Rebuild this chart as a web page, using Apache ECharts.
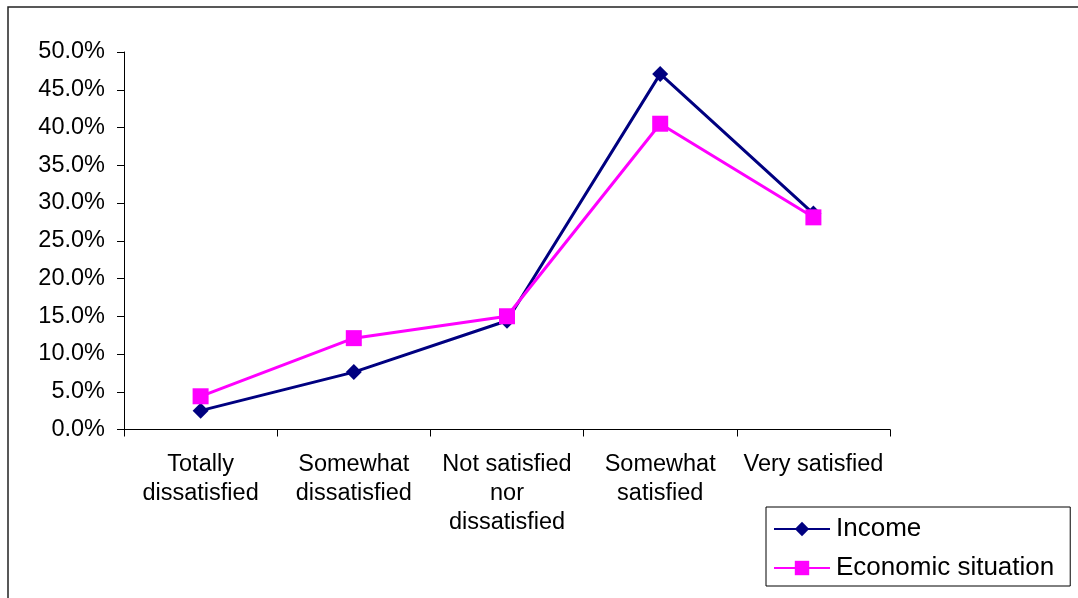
<!DOCTYPE html>
<html>
<head>
<meta charset="utf-8">
<script src="https://cdn.jsdelivr.net/npm/echarts@6/dist/echarts.min.js"></script>
<style>
  html, body { margin: 0; padding: 0; background: #fff; }
  #chart { width: 1078px; height: 598px; }
</style>
</head>
<body>
<div id="chart"></div>
<script>
// Satisfaction levels (x axis)
const categories = [
  'Totally\ndissatisfied',
  'Somewhat\ndissatisfied',
  'Not satisfied\nnor\ndissatisfied',
  'Somewhat\nsatisfied',
  'Very satisfied'
];
// Share of respondents, percent
const income = [2.5, 7.6, 14.4, 47.1, 28.6];
const economicSituation = [4.4, 12.1, 15.0, 40.5, 28.1];
// Y axis range
const yMin = 0, yMax = 50, yStep = 5;

const FONT = '"Liberation Sans", Arial, sans-serif';
const chart = echarts.init(document.getElementById('chart'), null, { renderer: 'canvas' });

chart.setOption({
  backgroundColor: '#ffffff',
  animation: false,
  graphic: [{
    type: 'rect',
    shape: { x: 8, y: 7, width: 1200, height: 700 },
    style: { fill: 'none', stroke: '#222', lineWidth: 1.5 },
    silent: true
  }],
  grid: { left: 124, right: 188, top: 52, bottom: 168.5 },
  legend: {
    orient: 'vertical',
    left: 766,
    top: 507,
    width: 302,
    padding: [9, 16, 5, 7],
    itemGap: 13,
    itemWidth: 56,
    itemHeight: 18,
    itemStyle: { borderWidth: 0 },
    borderColor: '#000',
    borderWidth: 1,
    backgroundColor: '#fff',
    textStyle: { fontFamily: FONT, fontSize: 26, color: '#000', padding: [0, 0, 0, 1] },
    data: ['Income', 'Economic situation']
  },
  xAxis: {
    type: 'category',
    data: categories,
    boundaryGap: true,
    axisLine: { lineStyle: { color: '#000', width: 1 } },
    axisTick: { show: true, length: 7, lineStyle: { color: '#000' } },
    axisLabel: {
      interval: 0,
      margin: 21,
      fontFamily: FONT,
      fontSize: 23.5,
      lineHeight: 29,
      color: '#000',
      verticalAlign: 'top'
    },
    splitLine: { show: false }
  },
  yAxis: {
    type: 'value',
    min: yMin,
    max: yMax,
    interval: yStep,
    axisLine: { show: true, lineStyle: { color: '#000', width: 1 } },
    axisTick: { show: true, length: 7, lineStyle: { color: '#000' } },
    axisLabel: {
      margin: 19,
      fontFamily: FONT,
      fontSize: 23.5,
      color: '#000',
      formatter: v => v.toFixed(1) + '%'
    },
    splitLine: { show: false }
  },
  series: [
    {
      name: 'Income',
      type: 'line',
      data: income,
      color: '#000080',
      symbol: 'diamond',
      symbolSize: 16,
      lineStyle: { width: 3, color: '#000080' },
      itemStyle: { color: '#000080' },
      z: 2
    },
    {
      name: 'Economic situation',
      type: 'line',
      data: economicSituation,
      color: '#ff00ff',
      symbol: 'rect',
      symbolSize: 16,
      lineStyle: { width: 3, color: '#ff00ff' },
      itemStyle: { color: '#ff00ff' },
      z: 3
    }
  ]
});
</script>
</body>
</html>
